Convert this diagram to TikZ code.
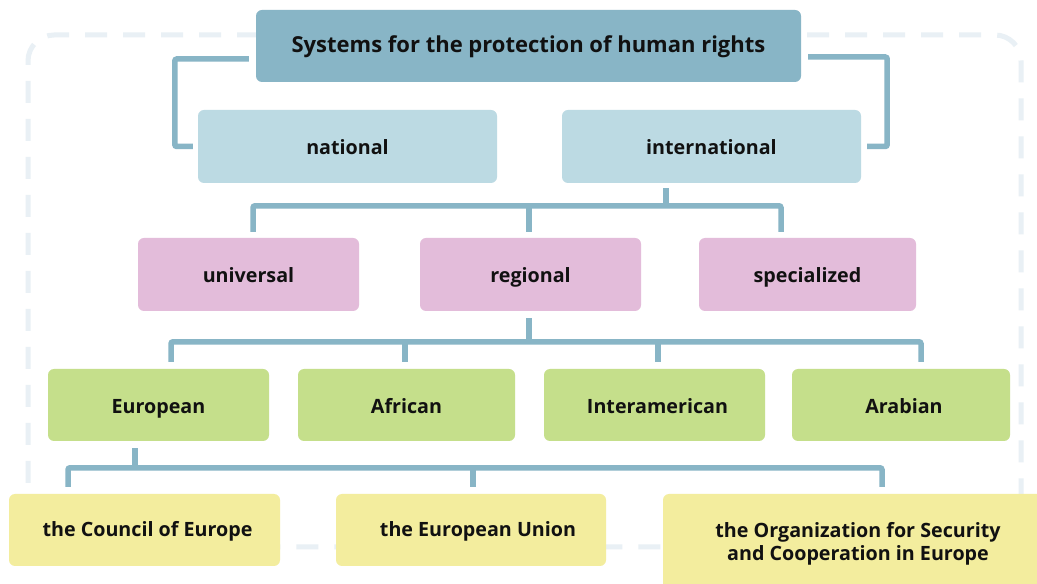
\documentclass[tikz,border=0pt]{standalone}
\usepackage{fontspec}
\setmainfont{Open Sans}
\usetikzlibrary{calc}
\definecolor{topblue}{HTML}{88B5C6}
\definecolor{lightblue}{HTML}{BCDAE3}
\definecolor{pinkbox}{HTML}{E3BCDA}
\definecolor{greenbox}{HTML}{C5DF8B}
\definecolor{yellowbox}{HTML}{F3ED9E}
\definecolor{linkcol}{HTML}{88B5C6}
\definecolor{framecol}{HTML}{E9F0F5}
\definecolor{textcol}{HTML}{111111}
\tikzset{
  box/.style={rectangle, rounded corners=6pt, inner sep=0pt, align=center,
    font=\bfseries\fontsize{19.7}{23.3}\selectfont, text=textcol},
  lowtext/.style={text height=20.6pt, text depth=4pt},
  hightext/.style={text height=18pt, text depth=4.6pt},
  headbox/.style={box, hightext, fill=topblue, font=\bfseries\fontsize{22}{26}\selectfont},
  lvlone/.style={box, lowtext, fill=lightblue},
  lvltwo/.style={box, lowtext, fill=pinkbox},
  lvlthree/.style={box, lowtext, fill=greenbox},
  lvlfour/.style={box, fill=yellowbox},
  conn/.style={draw=linkcol, line width=5.5pt, rounded corners=2pt},
}
\begin{document}
\begin{tikzpicture}[x=1pt,y=1pt]
\useasboundingbox (0,0) rectangle (1037,584);
\fill[white] (0,0) rectangle (1037,584);
% dashed frame behind everything
\draw[framecol, line width=5pt, dash pattern=on 22pt off 16pt, rounded corners=26pt]
  (28,37) rectangle (1021,549);

% nodes
\node[headbox, minimum width=545pt, minimum height=72pt] (title) at (528.5,538) {Systems for the protection of human rights};
\node[lvlone, minimum width=299pt, minimum height=73pt] (national) at (347.5,437.5) {national};
\node[lvlone, minimum width=299pt, minimum height=73pt] (international) at (711.5,437.5) {international};
\node[lvltwo, minimum width=221pt, minimum height=73pt] (universal) at (248.5,309.5) {universal};
\node[lvltwo, minimum width=221pt, minimum height=73pt] (regional) at (530.5,309.5) {regional};
\node[lvltwo, minimum width=217pt, minimum height=73pt] (specialized) at (807.5,309.5) {specialized};
\node[lvlthree, minimum width=221pt, minimum height=72pt] (european) at (158.5,179) {European};
\node[lvlthree, minimum width=217pt, minimum height=72pt] (african) at (406.5,179) {African};
\node[lvlthree, minimum width=221pt, minimum height=72pt] (interamerican) at (654.5,179) {\hspace*{6pt}Interamerican};
\node[lvlthree, minimum width=218pt, minimum height=72pt] (arabian) at (901,179) {\hspace*{6pt}Arabian};
\node[lvlfour, hightext, minimum width=271pt, minimum height=72pt] (council) at (144.5,54) {\hspace*{6pt}the Council of Europe};
\node[lvlfour, hightext, minimum width=270pt, minimum height=72pt] (eu) at (471,54) {\hspace*{14pt}the European Union};
\node[lvlfour, minimum width=390pt, minimum height=99pt] (osce) at (858,40.5) {the Organization for Security\\ and Cooperation in Europe};

% brackets from the title
\draw[conn] ($(title.west)+(-7,-13)$) -| ($(national.west)+(-23,0)$) -- ($(national.west)+(-5,0)$);
\draw[conn] ($(title.east)+(7,-11)$) -| ($(international.east)+(26,0)$) -- ($(international.east)+(6,0)$);

% international -> universal / regional / specialized
\draw[conn] ($(international.south)+(-45.5,-5)$) -- ($(international.south)+(-45.5,-23)$);
\draw[conn] ($(universal.north)+(4.5,6)$) -- ($(universal.north)+(4.5,32)$)
  -- ($(specialized.north)+(-26.5,32)$) -- ($(specialized.north)+(-26.5,6)$);
\draw[conn] ($(regional.north)+(-1.5,6)$) -- ($(regional.north)+(-1.5,32)$);

% regional -> four regions
\draw[conn] ($(regional.south)+(-1.5,-7)$) -- ($(regional.south)+(-1.5,-31)$);
\draw[conn] ($(european.north)+(12.5,7)$) -- ($(european.north)+(12.5,27)$)
  -- ($(arabian.north)+(20,27)$) -- ($(arabian.north)+(20,7)$);
\draw[conn] ($(african.north)+(-1.5,7)$) -- ($(african.north)+(-1.5,27)$);
\draw[conn] ($(interamerican.north)+(3.5,7)$) -- ($(interamerican.north)+(3.5,27)$);

% European -> institutions
\draw[conn] ($(european.south)+(-23.5,-7)$) -- ($(european.south)+(-23.5,-27)$);
\draw[conn] ($(council.north)+(-76.5,7)$) -- ($(council.north)+(-76.5,26)$)
  -- ($(osce.north)+(24,26)$) -- ($(osce.north)+(24,7)$);
\draw[conn] ($(eu.north)+(2,7)$) -- ($(eu.north)+(2,26)$);
\end{tikzpicture}
\end{document}
